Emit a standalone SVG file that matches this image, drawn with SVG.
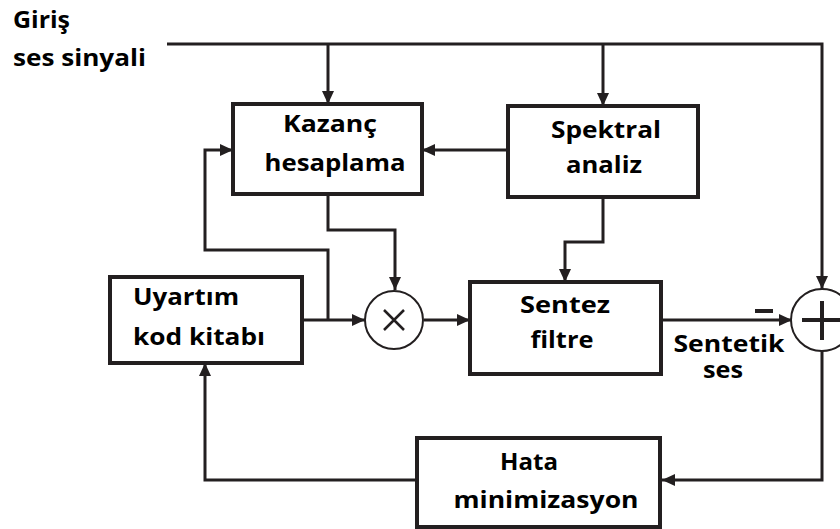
<svg xmlns="http://www.w3.org/2000/svg" width="840" height="529" viewBox="0 0 840 529">
<defs>
<marker id="ah" markerUnits="userSpaceOnUse" markerWidth="14" markerHeight="12" refX="13" refY="6" orient="auto">
<path d="M0,0 L13,6 L0,12 z" fill="#231f20"/>
</marker>
<style>
.t{font-family:"Open Sans","Liberation Sans",sans-serif;font-weight:bold;font-size:24px;fill:#000}
.c{text-anchor:middle}
.box{fill:#fff;stroke:#231f20;stroke-width:4}
.ln{fill:none;stroke:#231f20;stroke-width:3}
.cir{fill:#fff;stroke:#231f20;stroke-width:2}
</style>
</defs>
<rect width="840" height="529" fill="#fff"/>
<g id="labels">
<text class="t" x="13" y="28" textLength="57" lengthAdjust="spacingAndGlyphs">Giriş</text>
<text class="t" x="13" y="66" textLength="133" lengthAdjust="spacingAndGlyphs">ses sinyali</text>
<text class="t c" x="729" y="352" textLength="111" lengthAdjust="spacingAndGlyphs">Sentetik</text>
<text class="t c" x="723" y="378" textLength="40" lengthAdjust="spacingAndGlyphs">ses</text>
<rect x="755" y="309" width="18" height="4" fill="#231f20"/>
</g>
<g id="connectors">
<polyline class="ln" points="167,44 822,44 822,289" marker-end="url(#ah)"/>
<line class="ln" x1="328" y1="44" x2="328" y2="104" marker-end="url(#ah)"/>
<line class="ln" x1="603" y1="44" x2="603" y2="106" marker-end="url(#ah)"/>
<line class="ln" x1="508" y1="150" x2="422" y2="150" stroke-width="4" marker-end="url(#ah)"/>
<polyline class="ln" points="328,195 328,230 395,230 395,290" marker-end="url(#ah)"/>
<polyline class="ln" points="603,197 603,242 565,242 565,282" marker-end="url(#ah)"/>
<line class="ln" x1="302" y1="320" x2="365" y2="320" marker-end="url(#ah)"/>
<polyline class="ln" points="328,320 328,250 205,250 205,150 233,150" marker-end="url(#ah)"/>
<line class="ln" x1="424" y1="320" x2="470" y2="320" marker-end="url(#ah)"/>
<line class="ln" x1="661" y1="320" x2="792" y2="320" marker-end="url(#ah)"/>
<polyline class="ln" points="822,351 822,480 662,480" marker-end="url(#ah)"/>
<polyline class="ln" points="417,480 205,480 205,363" marker-end="url(#ah)"/>
</g>
<g id="kazanc">
<rect class="box" x="233" y="104" width="189" height="90"/>
<text class="t c" x="330" y="132" textLength="94" lengthAdjust="spacingAndGlyphs">Kazanç</text>
<text class="t c" x="335" y="171" textLength="141" lengthAdjust="spacingAndGlyphs">hesaplama</text>
</g>
<g id="spektral">
<rect class="box" x="508" y="106" width="190" height="91"/>
<text class="t c" x="606" y="138" textLength="110" lengthAdjust="spacingAndGlyphs">Spektral</text>
<text class="t c" x="604" y="173" textLength="76" lengthAdjust="spacingAndGlyphs">analiz</text>
</g>
<g id="uyartim">
<rect class="box" x="110" y="277" width="192" height="86"/>
<text class="t" x="133" y="305" textLength="106" lengthAdjust="spacingAndGlyphs">Uyartım</text>
<text class="t" x="133" y="345" textLength="132" lengthAdjust="spacingAndGlyphs">kod kitabı</text>
</g>
<g id="carpim">
<circle class="cir" cx="394" cy="320" r="29"/>
<path d="M384,310 L404,330 M404,310 L384,330" stroke="#231f20" stroke-width="2.5" fill="none"/>
</g>
<g id="sentez">
<rect class="box" x="470" y="282" width="191" height="92"/>
<text class="t c" x="565" y="313" textLength="90" lengthAdjust="spacingAndGlyphs">Sentez</text>
<text class="t c" x="562" y="348" textLength="63" lengthAdjust="spacingAndGlyphs">filtre</text>
</g>
<g id="toplam">
<circle class="cir" cx="822" cy="320" r="31"/>
<path d="M802,320 L842,320 M822,301 L822,340" stroke="#231f20" stroke-width="4" fill="none"/>
</g>
<g id="hata">
<rect class="box" x="417" y="438" width="243" height="89" stroke-width="4.5"/>
<text class="t c" x="529" y="470" textLength="58" lengthAdjust="spacingAndGlyphs">Hata</text>
<text class="t c" x="546" y="508" textLength="185" lengthAdjust="spacingAndGlyphs">minimizasyon</text>
</g>
</svg>
